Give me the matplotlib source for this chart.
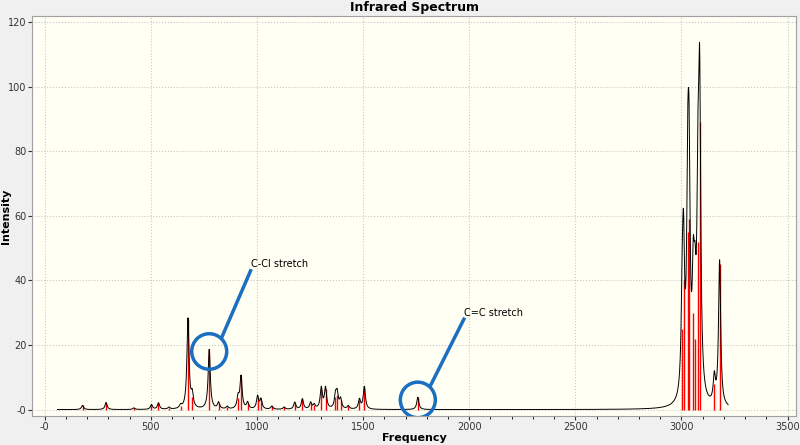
import numpy as np
import matplotlib
matplotlib.use("Agg")
import matplotlib.pyplot as plt
from matplotlib.patches import Ellipse

freqs = [178, 289, 420, 503, 536, 585, 640, 675, 695, 775, 819, 860, 911, 925, 956,
         1003, 1019, 1070, 1128, 1178, 1214, 1253, 1270, 1303, 1323, 1370, 1378, 1394,
         1430, 1483, 1506, 1758,
         3004, 3010, 3030, 3036, 3056, 3064, 3078, 3086, 3155, 3180]
intens = [1.3, 2.2, 0.5, 1.5, 2.0, 0.6, 1.0, 28, 4, 18.5, 2, 0.8, 3.5, 10, 2,
          4.0, 3.0, 1, 0.7, 2.2, 3.2, 2.0, 1.3, 6.5, 6.5, 4.0, 4.5, 3.0,
          1.0, 3.0, 7.0, 3.8,
          25, 40, 55, 59, 30, 22, 52, 89, 8, 45]
fwhm = 12.0

x = np.linspace(60, 3220, 6000)
y = np.zeros_like(x)
g = fwhm / 2
for f0, a in zip(freqs, intens):
    y += a * g**2 / ((x - f0)**2 + g**2)

fig = plt.figure(figsize=(8, 4.45), dpi=100, facecolor="#f0f0f0")
ax = fig.add_axes([0.04, 0.065, 0.955, 0.9])
ax.set_facecolor("#fffff4")
ax.vlines(freqs, 0, intens, color="red", lw=1, zorder=2)
ax.plot(x, y, color="black", lw=0.7, zorder=3)
ax.set_xlim(-60, 3540)
ax.set_ylim(-2, 122)
ax.set_xticks(np.arange(0, 3501, 500))
ax.set_xticklabels(["-0"] + [str(v) for v in range(500, 3501, 500)], fontsize=7)
ax.set_xticks(np.arange(0, 3501, 100), minor=True)
ax.set_yticks(np.arange(0, 121, 20))
ax.set_yticklabels(["-0"] + [str(v) for v in range(20, 121, 20)], fontsize=7)
ax.grid(True, ls=":", color="#c8c8c8", lw=0.8)
ax.set_xlabel("Frequency", fontsize=8, fontweight="bold", labelpad=1)
ax.set_ylabel("Intensity", fontsize=8, fontweight="bold")
ax.yaxis.set_label_coords(-0.028, 0.5)
ax.set_title("Infrared Spectrum", fontsize=9, fontweight="bold", pad=3)
for s in ax.spines.values():
    s.set_color("#a0a0a0")
ax.tick_params(length=3, colors="#333333", pad=1)

blue = "#1a6fc0"
for (cx, cy), (tx, ty), label in [((775, 18), (970, 45), "C-Cl stretch"),
                                  ((1758, 3), (1975, 30), "C=C stretch")]:
    ax.add_patch(Ellipse((cx, cy), 165, 11, fill=False, ec=blue, lw=2.5, zorder=5))
    ax.plot([cx + 60, tx], [cy + 4.5, ty - 2], color=blue, lw=2.5, zorder=5)
    ax.text(tx, ty, label, fontsize=7, ha="left", va="center")

fig.savefig("out.png", dpi=100, facecolor=fig.get_facecolor())
